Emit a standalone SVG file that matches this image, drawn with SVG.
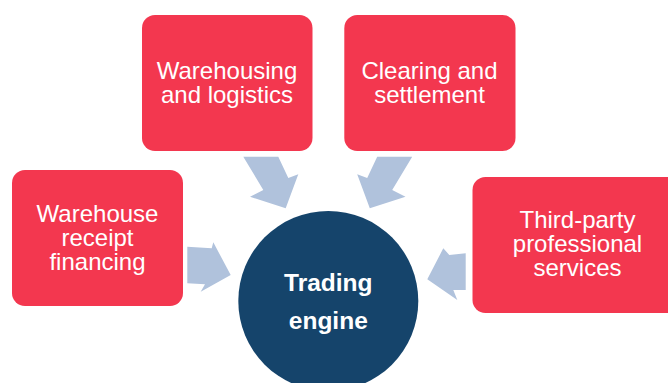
<svg xmlns="http://www.w3.org/2000/svg" width="668" height="383" viewBox="0 0 668 383">
  <style>
    .box { fill: #F3374F; }
    .hub { fill: #15446B; }
    .arrow { fill: #B0C2DC; }
    .label { font-family: "Liberation Sans", Arial, sans-serif; font-size: 24px; fill: #FFFFFF; text-anchor: middle; }
    .hub-label { font-family: "Liberation Sans", Arial, sans-serif; font-size: 24.5px; font-weight: bold; fill: #FFFFFF; text-anchor: middle; }
  </style>
  <rect width="668" height="383" fill="#FFFFFF"/>

  <!-- block arrows pointing into the hub -->
  <g id="connectors">
    <polygon class="arrow" points="243.3,156.7 278.3,156.7 288.3,178 298.3,174.3 285.7,208.3 250,196.7 263.3,190"/>
    <polygon class="arrow" points="412.2,156.7 377.2,156.7 367.2,178 357.2,174.3 369.8,208.3 405.5,196.7 392.2,190"/>
    <polygon class="arrow" points="187.3,246.7 211.7,248.3 213.3,242.3 230.7,275 200.7,291.7 205,284.3 187.3,283.3"/>
    <polygon class="arrow" points="465.7,253.3 449.3,255 443.3,248.3 427.3,279.3 457.3,300 453.3,290 465.7,290"/>
  </g>

  <g id="warehousing-logistics">
    <rect class="box" x="142" y="15" width="170.5" height="136" rx="13"/>
    <text class="label" x="227" y="79">Warehousing</text>
    <text class="label" x="227" y="103">and logistics</text>
  </g>

  <g id="clearing-settlement">
    <rect class="box" x="344.3" y="15" width="171.2" height="136" rx="13"/>
    <text class="label" x="429.5" y="79">Clearing and</text>
    <text class="label" x="429.5" y="103">settlement</text>
  </g>

  <g id="warehouse-receipt-financing">
    <rect class="box" x="12" y="170" width="171" height="136" rx="13"/>
    <text class="label" x="97.5" y="222">Warehouse</text>
    <text class="label" x="97.5" y="246">receipt</text>
    <text class="label" x="97.5" y="270">financing</text>
  </g>

  <g id="third-party-services">
    <rect class="box" x="472.5" y="177" width="215" height="136" rx="13"/>
    <text class="label" x="577.5" y="228">Third-party</text>
    <text class="label" x="577.5" y="252">professional</text>
    <text class="label" x="577.5" y="276">services</text>
  </g>

  <g id="trading-engine">
    <circle class="hub" cx="328.3" cy="301" r="90"/>
    <text class="hub-label" x="328.3" y="291">Trading</text>
    <text class="hub-label" x="328.3" y="329">engine</text>
  </g>
</svg>
